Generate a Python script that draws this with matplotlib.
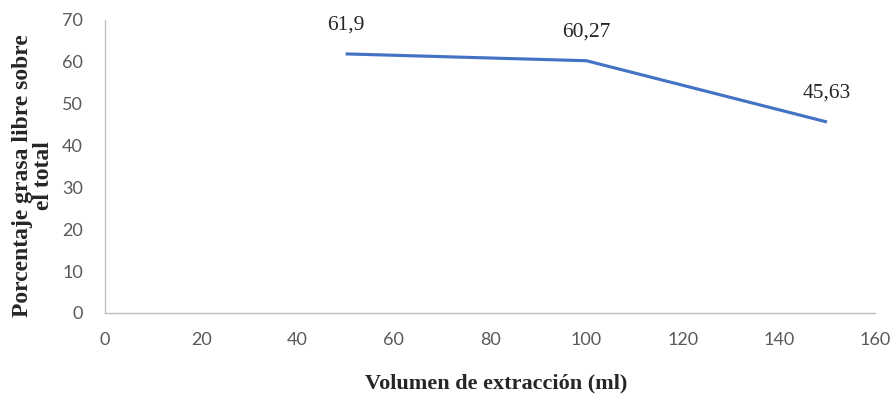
import matplotlib.pyplot as plt

# extraction volume (ml) vs. free fat percentage
volumen = [50, 100, 150]
grasa_libre = [61.9, 60.27, 45.63]
etiquetas = ['61,9', '60,27', '45,63']

fig = plt.figure(figsize=(8.93, 3.96), dpi=100)
ax = fig.add_axes([0.1176, 0.2096, 0.8624, 0.7399])

ax.plot(volumen, grasa_libre, color='#4472C4', linewidth=2.25, solid_capstyle='butt')

for x, y, t in zip(volumen, grasa_libre, etiquetas):
    ax.annotate(t, (x, y), xytext=(0, 21), textcoords='offset points',
                ha='center', va='center', fontsize=15.5,
                family='Liberation Serif', color='#262626')

ax.set_xlim(0, 160)
ax.set_ylim(0, 70)
ax.set_xticks(range(0, 161, 20))
ax.set_yticks(range(0, 71, 10))

for side in ['top', 'right']:
    ax.spines[side].set_visible(False)
for side in ['left', 'bottom']:
    ax.spines[side].set_color('#BFBFBF')
    ax.spines[side].set_linewidth(1.0)

ax.tick_params(length=0, labelsize=13, labelcolor='#595959')
ax.tick_params(axis='y', pad=16)
ax.tick_params(axis='x', pad=14)
for lbl in ax.get_xticklabels() + ax.get_yticklabels():
    lbl.set_family('Lato')

ax.set_xlabel('Volumen de extracción (ml)', fontsize=16, fontweight='bold',
              family='Liberation Serif', color='#262626')
ax.set_ylabel('Porcentaje grasa libre sobre\nel total', fontsize=17,
              fontweight='bold', family='Liberation Serif', color='#262626',
              linespacing=1.0)
ax.xaxis.set_label_coords(0.508, -0.205)
ax.yaxis.set_label_coords(-0.066, 0.468)

fig.savefig('out.png', dpi=100)
